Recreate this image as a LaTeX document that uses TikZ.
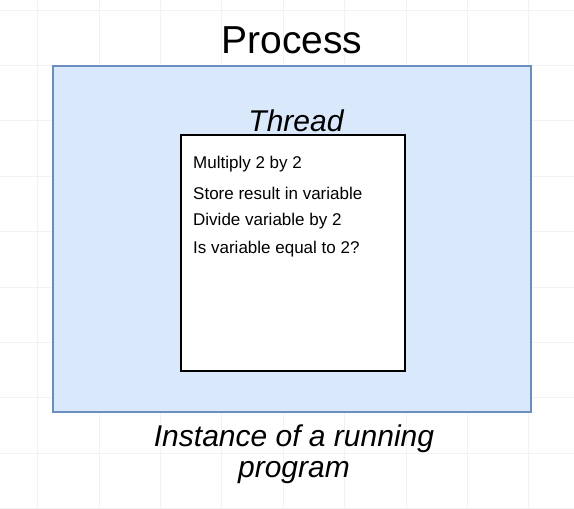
\documentclass[tikz,border=0pt]{standalone}
\usepackage{fontspec}
\setmainfont{Liberation Sans}
\begin{document}
\begin{tikzpicture}[x=1pt,y=-1pt,
  gridline/.style={draw=black!5,line width=0.8pt},
  processbox/.style={draw= procline,fill=procfill,line width=2pt},
  threadbox/.style={draw=black,fill=white,line width=2.4pt},
  steptext/.style={anchor=west,inner sep=0pt,font=\fontsize{17}{19}\selectfont}
]
\definecolor{procline}{HTML}{6C8EBF}
\definecolor{procfill}{HTML}{DAE8FC}
\useasboundingbox (0,0) rectangle (574,509);
\fill[white] (0,0) rectangle (574,509);
% background grid
\foreach \i in {0,...,8} \draw[gridline] ({37.5+61.4*\i},0) -- ({37.5+61.4*\i},509);
\foreach \j in {0,...,9} \draw[gridline] (0,{10+55.4*\j}) -- (574,{10+55.4*\j});
% process and thread boxes
\node[processbox,minimum width=478pt,minimum height=346pt,inner sep=0pt] (process) at (292,239) {};
\node[threadbox,minimum width=224pt,minimum height=236pt,inner sep=0pt] (thread) at (293,253) {};
% labels
\node[font=\fontsize{39}{42}\selectfont] (ptitle) at (292,40) {Process};
\node[font=\itshape\fontsize{30}{32}\selectfont] (ttitle) at (296,121) {Thread};
\node[steptext] (s1) at (193,164) {Multiply 2 by 2};
\node[steptext] (s2) at (193,193) {Store result in variable};
\node[steptext] (s3) at (193,221) {Divide variable by 2};
\node[steptext] (s4) at (193,249) {Is variable equal to 2?};
\node[font=\itshape\fontsize{30}{31}\selectfont,align=center] (pdesc) at (294,454) {Instance of a running\\program};
\end{tikzpicture}
\end{document}
